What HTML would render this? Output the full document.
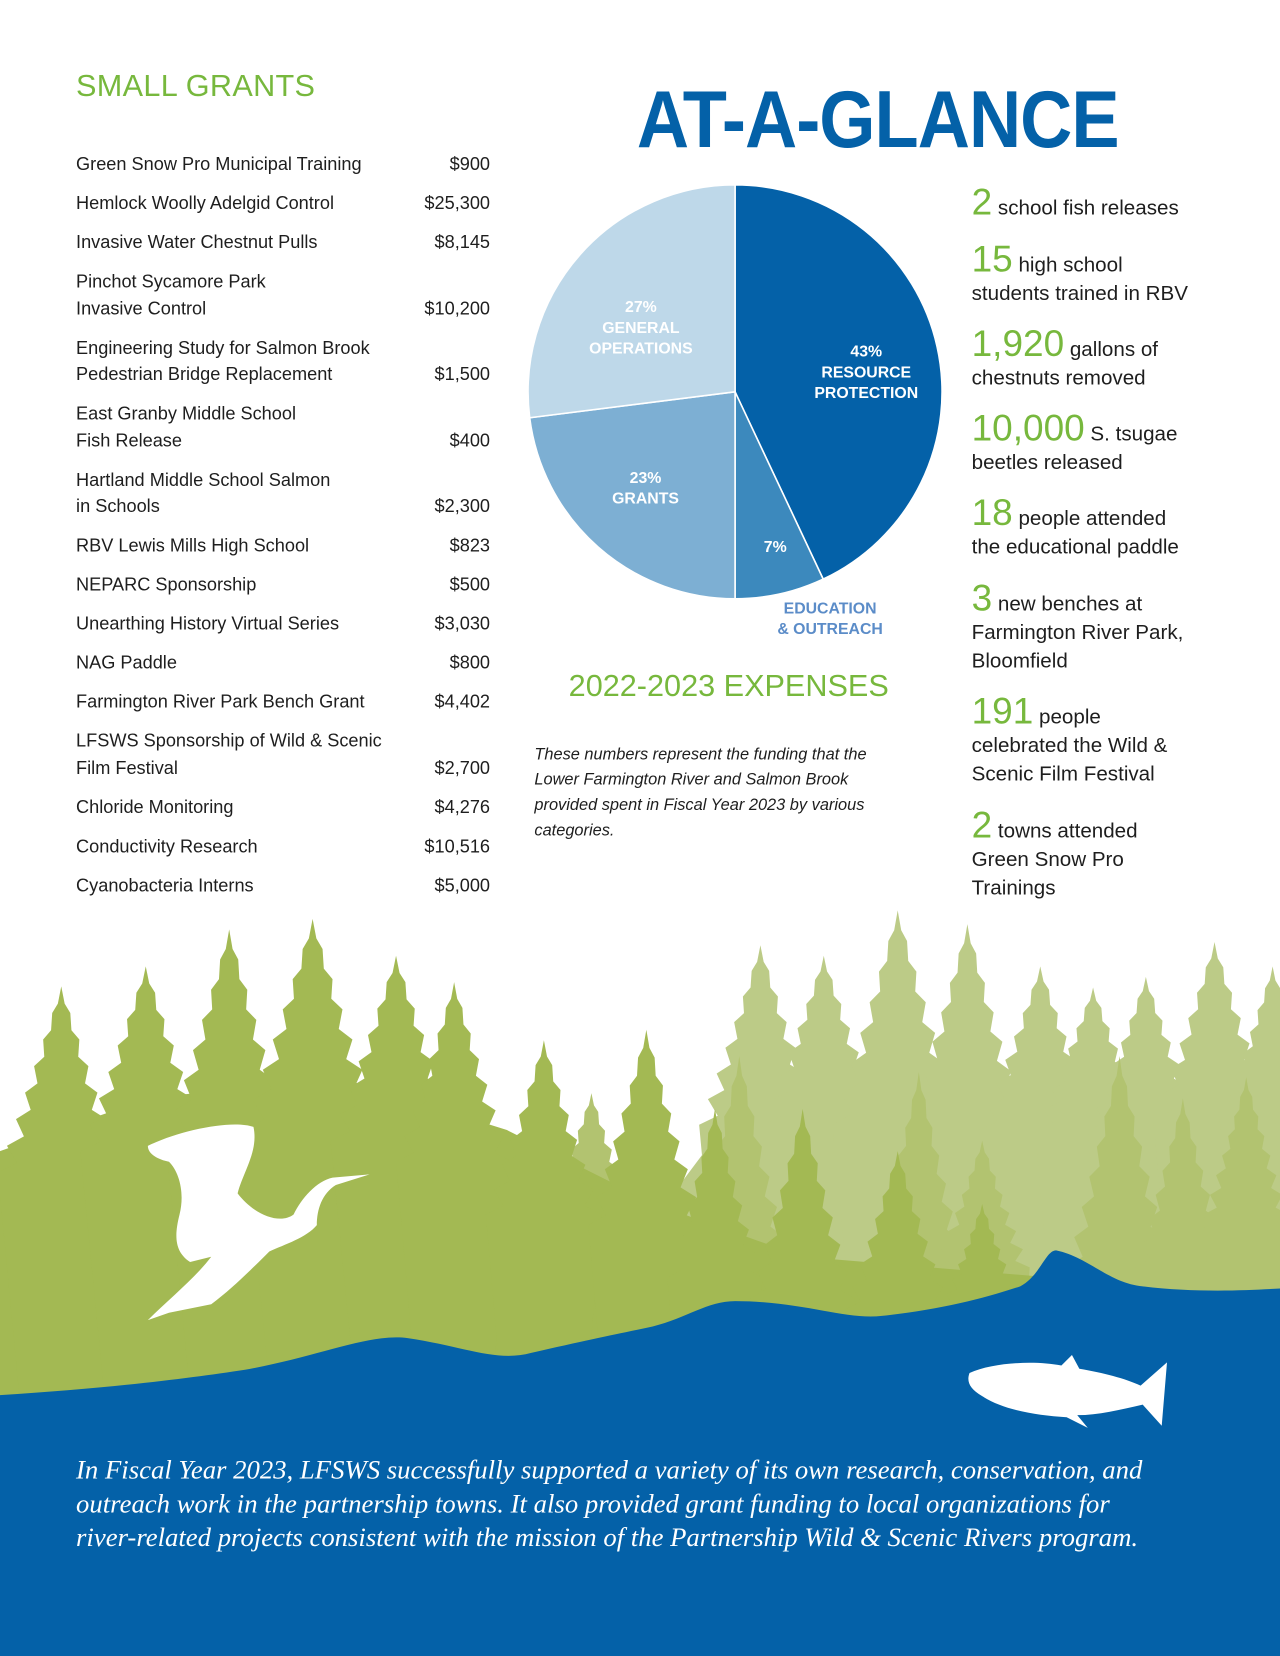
<!DOCTYPE html>
<html><head><meta charset="utf-8">
<style>
html,body{margin:0;padding:0;background:#fff;}
body{width:1280px;height:1656px;overflow:hidden;position:relative;}
#wrap{position:absolute;left:0;top:0;width:1212px;height:1568px;transform:scale(1.05611);transform-origin:0 0;font-family:"Liberation Sans",sans-serif;}
.abs{position:absolute;}
.gname{position:absolute;left:72px;font-size:17.2px;color:#1e1e1e;line-height:25px;white-space:nowrap;}
.gamt{position:absolute;right:748px;font-size:17.2px;color:#1e1e1e;line-height:25px;white-space:nowrap;text-align:right;}
.stat{position:absolute;left:920px;font-size:19.5px;color:#1e1e1e;line-height:27px;white-space:nowrap;}
.stat b{font-weight:normal;color:#77b83d;font-size:35px;line-height:27px;}
</style></head><body>
<div id="wrap">
<svg class="abs" style="left:0;top:0" width="1212" height="1568" id="bg"></svg>

<div class="abs" style="left:72px;top:66px;font-size:29px;color:#77b83d;letter-spacing:0.3px">SMALL GRANTS</div>
<div class="abs" style="left:603px;top:70px;font-size:76px;font-weight:bold;color:#0461a8;letter-spacing:-1px;transform:scaleX(0.9);transform-origin:0 0;white-space:nowrap">AT-A-GLANCE</div>

<div id="grants"></div>

<svg class="abs" style="left:480px;top:160px" width="440" height="460" id="pie"></svg>

<div class="abs" style="left:530px;top:634px;width:320px;text-align:center;font-size:29px;color:#77b83d">2022-2023 EXPENSES</div>
<div class="abs" style="left:506px;top:703px;width:350px;font-size:15.5px;font-style:italic;color:#1e1e1e;line-height:24px">These numbers represent the funding that the Lower Farmington River and Salmon Brook provided spent in Fiscal Year 2023 by various categories.</div>

<div class="stat" style="top:178px"><b>2</b> school fish releases</div>
<div class="stat" style="top:232px"><b>15</b> high school<br>students trained in RBV</div>
<div class="stat" style="top:312px"><b>1,920</b> gallons of<br>chestnuts removed</div>
<div class="stat" style="top:392px"><b>10,000</b> S. tsugae<br>beetles released</div>
<div class="stat" style="top:472px"><b>18</b> people attended<br>the educational paddle</div>
<div class="stat" style="top:553px"><b>3</b> new benches at<br>Farmington River Park,<br>Bloomfield</div>
<div class="stat" style="top:660px"><b>191</b> people<br>celebrated the Wild &amp;<br>Scenic Film Festival</div>
<div class="stat" style="top:768px"><b>2</b> towns attended<br>Green Snow Pro<br>Trainings</div>

<div class="abs" style="left:72px;top:1376px;width:1130px;font-family:'Liberation Serif',serif;font-style:italic;font-size:25.3px;color:#fff;line-height:32px;white-space:nowrap">In Fiscal Year 2023, LFSWS successfully supported a variety of its own research, conservation, and<br>outreach work in the partnership towns. It also provided grant funding to local organizations for<br>river-related projects consistent with the mission of the Partnership Wild &amp; Scenic Rivers program.</div>
</div>
<script>
// ---- grants data ----
const grantNames=[["Green Snow Pro Municipal Training"],["Hemlock Woolly Adelgid Control"],["Invasive Water Chestnut Pulls"],["Pinchot Sycamore Park","Invasive Control"],["Engineering Study for Salmon Brook","Pedestrian Bridge Replacement"],["East Granby Middle School","Fish Release"],["Hartland Middle School Salmon","in Schools"],["RBV Lewis Mills High School"],["NEPARC Sponsorship"],["Unearthing History Virtual Series"],["NAG Paddle"],["Farmington River Park Bench Grant"],["LFSWS Sponsorship of Wild & Scenic","Film Festival"],["Chloride Monitoring"],["Conductivity Research"],["Cyanobacteria Interns"]];
const grantAmounts=["$900","$25,300","$8,145","$10,200","$1,500","$400","$2,300","$823","$500","$3,030","$800","$4,402","$2,700","$4,276","$10,516","$5,000"];
// ---- pie data ----
const pieCategories=["RESOURCE PROTECTION","EDUCATION & OUTREACH","GRANTS","GENERAL OPERATIONS"];
const pieValues=[43,7,23,27];
const pieColors=["#0461a8","#3c89bd","#7dafd3","#bed8e9"];

const NS="http://www.w3.org/2000/svg";
const g=document.getElementById('grants');
let y=143;
grantNames.forEach((lines,i)=>{
  lines.forEach((t,j)=>{
    const d=document.createElement('div');d.className='gname';d.style.top=(y+j*25.5)+'px';d.textContent=t;
    
    
    g.appendChild(d);
  });
  const a=document.createElement('div');a.className='gamt';a.style.top=(y+(lines.length-1)*25.5)+'px';a.textContent=grantAmounts[i];
  
  
  g.appendChild(a);
  y+=lines.length===1?37:62.5;
});

// pie
const pie=document.getElementById('pie');
const cx=216,cy=211,R=196;
const total=pieValues.reduce((a,b)=>a+b,0);
function pt(f,r){const a=f*2*Math.PI-Math.PI/2;return [cx+r*Math.cos(a),cy+r*Math.sin(a)];}
let acc=0;
const mids=[];
pieValues.forEach((v,i)=>{
  const f0=acc/total,f1=(acc+v)/total;acc+=v;
  const p0=pt(f0,R),p1=pt(f1,R);
  const p=document.createElementNS(NS,'path');
  p.setAttribute('d',`M${cx},${cy}L${p0[0]},${p0[1]}A${R},${R} 0 ${(f1-f0)>0.5?1:0} 1 ${p1[0]},${p1[1]}Z`);
  p.setAttribute('fill',pieColors[i]);p.setAttribute('stroke','#fff');p.setAttribute('stroke-width','1.5');
  
  
  pie.appendChild(p);
  mids.push((f0+f1)/2);
});
function label(lines,x,y0,color,name){
  const t=document.createElementNS(NS,'text');
  t.setAttribute('text-anchor','middle');t.setAttribute('font-size','15');t.setAttribute('font-weight','bold');t.setAttribute('fill',color);
  t.setAttribute('font-family','Liberation Sans Narrow, Liberation Sans, sans-serif');
  lines.forEach((l,k)=>{const s=document.createElementNS(NS,'tspan');s.setAttribute('x',x);s.setAttribute('y',y0+k*19.5);s.textContent=l;t.appendChild(s);});
  
  
  pie.appendChild(t);
}
const labelR=[0.66,0.75,0.6,0.62];
const pcts=pieValues.map(v=>Math.round(v/total*100)+'%');
let q=pt(mids[0],R*labelR[0]);label([pcts[0],'RESOURCE','PROTECTION'],q[0]-2,q[1]-5,'#fff','resource-protection-label');
q=pt(mids[1],R*labelR[1]);label([pcts[1]],q[0]+6,q[1]+8,'#fff','education-percent-label');
label(['EDUCATION','& OUTREACH'],306,421,'#5b8cc8','education-outreach-label');
q=pt(mids[2],R*labelR[2]);label([pcts[2],'GRANTS'],q[0]-7,q[1]-2,'#fff','grants-label');
q=pt(mids[3],R*labelR[3]);label([pcts[3],'GENERAL','OPERATIONS'],q[0]+2,q[1]+5,'#fff','general-operations-label');

// forest illustration (decorative)
const bg=document.getElementById('bg');
function add(tag,attrs,name){const e=document.createElementNS(NS,tag);for(const k in attrs)e.setAttribute(k,attrs[k]);
  
  
  bg.appendChild(e);return e;}
function tree(x,tip,base,hw,color,name){
  const n=7,L=[],Rr=[];
  for(let i=1;i<=n;i++){
    const yy=tip+(base-tip)*i/n, w=hw*i/n;
    const yb=tip+(base-tip)*(i-0.35)/n, wb=hw*(i-0.5)/n*0.75;
    L.push([x-wb,yb],[x-w,yy]);Rr.push([x+wb,yb],[x+w,yy]);
  }
  const pts=[[x,tip],...Rr,[x+hw*0.6,base+250],[x-hw*0.6,base+250],...L.reverse()];
  add('polygon',{points:pts.map(p=>p.join(',')).join(' '),fill:color},name);
}
const light='#bccb87',mid='#b2c370',dark='#a3b953';
// far light region
add('path',{d:'M600,1180 L690,1060 L1212,1040 L1212,1250 L600,1250Z',fill:light},'far-forest');
[[720,895,1065,58],[780,905,1065,58],[850,862,1065,62],[916,875,1070,58],[985,915,1070,58],[1035,935,1070,55],[1085,925,1070,55],[1150,892,1060,58],[1205,915,1060,50],[1262,865,1060,55]].forEach(t=>tree(t[0],t[1],t[2],t[3],light,'light-tree'));
[[700,1000,1200,50],[870,1015,1200,45],[930,1080,1200,45],[1060,1000,1200,50],[1120,1040,1200,45],[1180,1020,1150,40],[560,1035,1160,45]].forEach(t=>tree(t[0],t[1],t[2],t[3],mid,'mid-tree'));
// front dark forest
add('path',{d:'M0,1090 L140,1040 L320,1020 L480,1070 L620,1140 L760,1190 L1000,1210 L1000,1330 L0,1330Z',fill:dark},'near-forest');
[[58,934,1110,60],[138,915,1090,62],[217,880,1080,60],[296,870,1070,66],[375,905,1080,62],[430,930,1100,55],[515,985,1150,55],[612,975,1160,55],[677,1050,1210,45],[760,1050,1230,50],[850,1090,1240,50],[930,1140,1240,40]].forEach(t=>tree(t[0],t[1],t[2],t[3],dark,'dark-tree'));
// water
add('path',{d:'M0,1321 C100,1315 180,1305 232,1297 C300,1285 350,1262 386,1267 C440,1275 470,1290 503,1281 C560,1268 590,1262 618,1256 C650,1248 670,1232 696,1232 C760,1232 800,1250 835,1246 C890,1240 930,1230 966,1218 C985,1208 990,1184 1000,1184 C1030,1190 1050,1215 1082,1218 C1130,1224 1180,1222 1212,1220 L1212,1568 L0,1568Z',fill:'#0461a8'},'river');
// heron
add('path',{d:'M140,1085 C170,1070 220,1060 240,1067 C245,1090 230,1110 225,1130 C240,1150 265,1160 278,1150 C285,1135 300,1118 315,1115 L350,1112 L318,1122 C305,1130 300,1145 300,1160 C290,1172 270,1178 255,1185 C240,1200 220,1220 200,1235 L160,1243 L140,1250 C160,1230 185,1210 200,1190 L180,1195 C165,1185 165,1170 170,1150 C175,1130 170,1110 160,1100 C150,1098 140,1093 140,1085Z',fill:'#fff'},'heron-silhouette');
// fish
add('path',{d:'M918,1300 C940,1290 980,1288 1005,1293 L1015,1283 L1022,1296 C1045,1300 1065,1305 1080,1312 L1105,1290 L1100,1350 L1082,1330 C1060,1335 1040,1340 1020,1340 L1030,1352 L1010,1342 C980,1340 950,1335 930,1322 C918,1315 915,1308 918,1300Z',fill:'#fff'},'salmon-silhouette');
</script>
</body></html>
